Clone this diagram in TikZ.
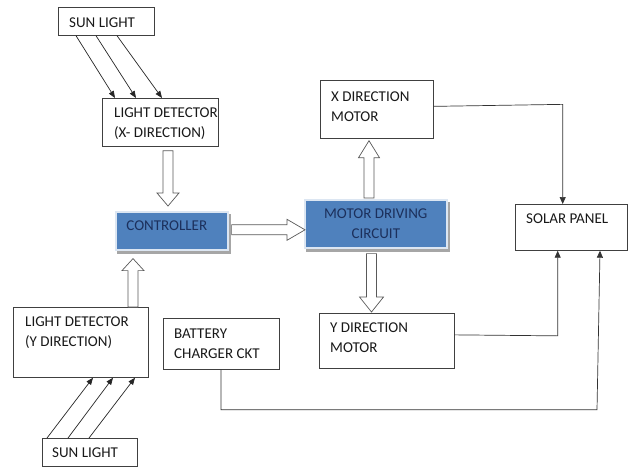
\documentclass[tikz,border=0pt]{standalone}
\usepackage{fontspec}
\setmainfont{Carlito}
\usetikzlibrary{arrows.meta,calc}
\definecolor{boxblue}{RGB}{79,129,189}
\definecolor{navy}{RGB}{28,48,92}
\definecolor{rimblue}{RGB}{220,230,242}
\tikzset{
  wbox/.style={draw=black!75, line width=0.7pt, fill=white, inner sep=0pt, anchor=north west},
  bbox/.style={draw=rimblue, line width=1.6pt, fill=boxblue, inner sep=0pt, anchor=north west},
  shadowbox/.style={fill=black!35, draw=none, inner sep=0pt, anchor=north west},
  lbl/.style={anchor=north west, inner sep=0pt, align=left, font=\fontsize{15}{20}\selectfont, text=black!90},
  blbl/.style={inner sep=0pt, align=center, font=\fontsize{15}{20}\selectfont, text=navy},
  hollow/.style={draw=black!65, line width=0.7pt, fill=white},
  ray/.style={draw=black!85, line width=0.7pt, -{Triangle[length=7pt,width=5.5pt]}},
  wire/.style={draw=black!80, line width=0.7pt, -{Triangle[length=7pt,width=6pt]}}
}
% hollow block arrows: #1 start (x taken from it), #2 end (tip), #3 head length, #4 half head width
\newcommand\hdown[4]{\draw[hollow] let \p1=#1,\p2=#2 in
  (\x1-5pt,\y1) -- (\x1-5pt,\y2+#3) -- (\x1-#4,\y2+#3) -- (\x1,\y2) -- (\x1+#4,\y2+#3) -- (\x1+5pt,\y2+#3) -- (\x1+5pt,\y1) -- cycle;}
\newcommand\hup[4]{\draw[hollow] let \p1=#1,\p2=#2 in
  (\x1-5pt,\y1) -- (\x1-5pt,\y2-#3) -- (\x1-#4,\y2-#3) -- (\x1,\y2) -- (\x1+#4,\y2-#3) -- (\x1+5pt,\y2-#3) -- (\x1+5pt,\y1) -- cycle;}
\newcommand\hright[4]{\draw[hollow] let \p1=#1,\p2=#2 in
  (\x1,\y1-5pt) -- (\x2-#3,\y1-5pt) -- (\x2-#3,\y1-#4) -- (\x2,\y1) -- (\x2-#3,\y1+#4) -- (\x2-#3,\y1+5pt) -- (\x1,\y1+5pt) -- cycle;}
\begin{document}
\begin{tikzpicture}[x=1pt,y=-1pt]
\useasboundingbox[fill=white] (0,0) rectangle (628,467);

% white boxes
\node[wbox, minimum width=96pt, minimum height=28pt] (sun1) at (58,7) {};
\node[lbl] (sun1t) at (69,17.5) {SUN LIGHT};
\node[wbox, minimum width=116pt, minimum height=48pt] (detx) at (102,98) {};
\node[lbl] (detxt) at (114,108) {LIGHT DETECTOR\\(X- DIRECTION)};
\node[wbox, minimum width=113pt, minimum height=58pt] (xmot) at (320,80) {};
\node[lbl] (xmott) at (331,92) {X DIRECTION\\MOTOR};
\node[wbox, minimum width=112pt, minimum height=46pt] (solar) at (515,204) {};
\node[lbl] (solart) at (526,214) {SOLAR PANEL};
\node[wbox, minimum width=116pt, minimum height=51pt] (batt) at (163,318) {};
\node[lbl] (battt) at (174,329) {BATTERY\\CHARGER CKT};
\node[wbox, minimum width=135pt, minimum height=55pt] (ymot) at (319,313) {};
\node[lbl] (ymott) at (330,323) {Y DIRECTION\\MOTOR};
\node[wbox, minimum width=135pt, minimum height=70pt] (dety) at (13,307) {};
\node[lbl] (detyt) at (25,317) {LIGHT DETECTOR\\(Y DIRECTION)};
\node[wbox, minimum width=95pt, minimum height=28pt] (sun2) at (42,438) {};
\node[lbl] (sun2t) at (52,448) {SUN LIGHT};

% blue boxes with shadow
\node[shadowbox, minimum width=114pt, minimum height=40pt] (ctrlsh) at (117,214) {};
\node[bbox, minimum width=112pt, minimum height=38pt] (ctrl) at (115,211) {};
\node[blbl] (ctrlt) at ($(ctrl.center)+(-5,-5)$) {CONTROLLER};
\node[shadowbox, minimum width=144pt, minimum height=50pt] (mdcsh) at (306,202) {};
\node[bbox, minimum width=142pt, minimum height=48pt] (mdc) at (304,199) {};
\node[blbl] (mdct) at (mdc.center) {MOTOR DRIVING\\CIRCUIT};

% sun rays
\draw[ray] ($(sun1.south west)+(18,0)$) -- ($(detx.north west)+(13,0)$);
\draw[ray] ($(sun1.south west)+(38,0)$) -- ($(detx.north west)+(34,0)$);
\draw[ray] ($(sun1.south west)+(59,0)$) -- ($(detx.north west)+(60,0)$);
\draw[ray] ($(sun2.north west)+(5,0)$) -- ($(dety.south west)+(80,0)$);
\draw[ray] ($(sun2.north west)+(26,0)$) -- ($(dety.south west)+(100,0)$);
\draw[ray] ($(sun2.north west)+(47,0)$) -- ($(dety.south west)+(122,0)$);

% hollow block arrows
\coordinate (a1s) at ($(detx.south west)+(66,4)$);
\coordinate (a1e) at ($(ctrl.north west)+(53,-5)$);
\hdown{(a1s)}{(a1e)}{13pt}{11pt}
\coordinate (a2s) at ($(dety.north west)+(120,0)$);
\coordinate (a2e) at ($(ctrl.south west)+(18,8)$);
\hup{(a2s)}{(a2e)}{12pt}{11pt}
\coordinate (a3s) at ($(ctrl.east)+(3,-1)$);
\coordinate (a3e) at ($(mdc.west)+(1,0)$);
\hright{(a3s)}{(a3e)}{18pt}{10.5pt}
\coordinate (a4s) at ($(mdc.north west)+(65,-1)$);
\coordinate (a4e) at ($(xmot.south west)+(49,2)$);
\hup{(a4s)}{(a4e)}{17pt}{10.5pt}
\coordinate (a5s) at ($(mdc.south west)+(67.5,5)$);
\coordinate (a5e) at ($(ymot.north west)+(52.5,-1)$);
\hdown{(a5s)}{(a5e)}{15pt}{12pt}

% wires to the solar panel
\draw[wire] ($(xmot.east)+(0,-3)$) -- ++(129,-2) coordinate (w1) -- (w1 |- solar.north);
\draw[wire] ($(ymot.east)+(0,-6)$) -- ++(103,1) coordinate (w2) -- (w2 |- solar.south);
\draw[wire] (batt.south west) ++(58,0) coordinate (w3) -- ++(0,40) -- ++(376,0) coordinate (w4) -- ($(w4 |- solar.south)+(3,0)$);
\end{tikzpicture}
\end{document}
